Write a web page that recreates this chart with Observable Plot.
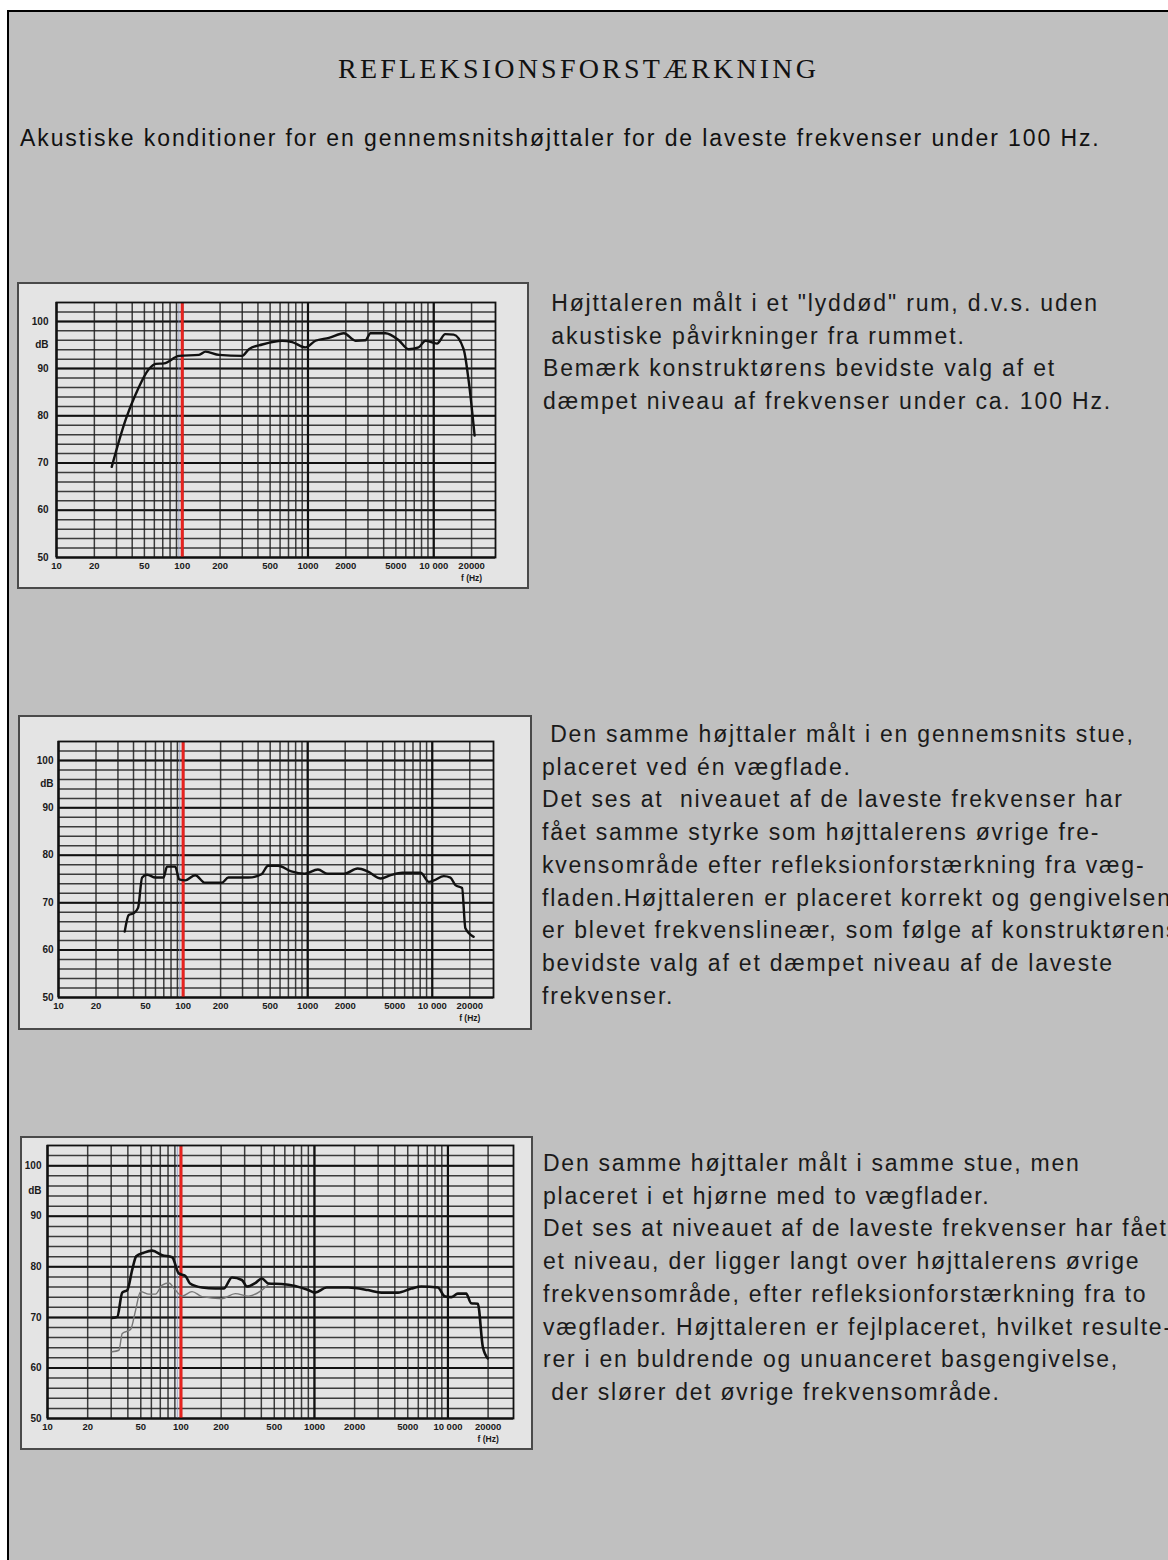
<!DOCTYPE html>
<html>
<head>
<meta charset="utf-8">
<script src="https://cdn.jsdelivr.net/npm/d3@7"></script>
<script src="https://cdn.jsdelivr.net/npm/@observablehq/plot@0.6"></script>
<style>
  html, body { margin: 0; padding: 0; background: #fff; }
  body { width: 1168px; height: 1560px; overflow: hidden; position: relative; }
  #page { position: absolute; left: 7px; top: 10px; width: 1220px; height: 1600px;
          background: #c0c0c0; border-left: 2px solid #000; border-top: 2px solid #000; }
  .abs { position: absolute; }
  .title { font-family: "Liberation Serif", serif; font-size: 28px; letter-spacing: 3.2px; line-height: 28px; color: #111; white-space: pre; }
  .sub { font-family: "Liberation Sans", Arial, sans-serif; font-size: 23px; letter-spacing: 1.9px; line-height: 32.7px; color: #111; white-space: pre; }
  .txt { font-family: "Liberation Sans", Arial, sans-serif; font-size: 23px; line-height: 32.7px; color: #1a1a1a; white-space: pre; }
  .box { position: absolute; background: #e4e4e4; box-sizing: border-box; border: 2px solid #4a4a4a; }
  .chart { position: absolute; }
  .chart svg { overflow: visible; }
</style>
</head>
<body>
<div id="page"></div>
<script>
// ---------- data ----------
// grid frequencies (log paper lines) and dB grid
const gridFreq = [10,20,30,40,50,60,70,80,90,100,200,300,400,500,600,700,800,900,1000,2000,3000,4000,5000,6000,7000,8000,9000,10000,20000];
const decadeFreq = [10,100,1000,10000];
const gridDb = [50,52,54,56,58,60,62,64,66,68,70,72,74,76,78,80,82,84,86,88,90,92,94,96,98,100,102];
const majorDb = [50,60,70,80,90,100];
const xTickValues = [10,20,50,100,200,500,1000,2000,5000,10000,20000];
const xTickLabels = ["10","20","50","100","200","500","1000","2000","5000","10 000","20000"];
const xUnitAt = [20000];
const xUnitLabel = "f (Hz)";
const yTickValues = [50,60,70,80,90,95,100];
const yTickLabels = ["50","60","70","80","90","dB","100"];
const markerFreq = [100];

// chart 1: anechoic ("lyddød") measurement
const anechoicFreq = [27.5,35.6,42.7,54.4,61.5,71.6,94.2,135.8,153.5,196,300,339,433,624,749,955,1148,1466,1928,2387,2866,3142,4131,5272,6310,7586,8590,10620,12360,14410,17300,18970,21150];
const anechoicDb   = [69.2,79.3,84.6,89.9,91.0,91.1,92.7,92.9,93.6,92.9,92.7,94.1,95.1,95.9,95.6,94.5,95.9,96.5,97.5,95.9,96.0,97.5,97.5,96.0,94.1,94.5,95.9,95.3,97.3,97.2,94.1,87.4,75.8];

// chart 2: one wall
const oneWallFreq = [34,36.6,40.2,43.5,46.9,51.4,59.9,69.8,74.2,86.5,93.1,104,125,150,204,231,333,426,481,578,739,944,1208,1449,1968,2518,3027,3864,4645,5754,8058,9397,10300,12380,13990,15340,17340,18440,21490];
const oneWallDb   = [63.9,67.4,67.8,68.9,75.3,75.9,75.3,75.3,77.6,77.6,74.9,74.7,75.8,74.2,74.2,75.3,75.3,76.0,77.8,77.8,76.6,76.1,77.0,76.1,76.1,77.2,76.6,75.1,75.8,76.3,76.3,74.4,74.7,75.6,75.3,73.7,73.1,64.6,62.8];

// chart 3: corner (two walls) - heavy line
const cornerFreq = [30.5,33.3,36.3,39.6,43.1,46.2,52.7,60.9,72.3,85.9,96.2,108,117,144,181,209,241,286,312,360,404,452,569,716,900,1009,1233,1790,2523,3175,4227,5318,6320,8410,9440,10590,11870,13700,14930,16750,18250,19890];
const cornerDb   = [69.9,70.1,74.9,75.4,79.4,82.1,82.8,83.2,82.3,81.9,78.7,78.2,76.7,75.9,75.7,75.7,77.9,77.4,76.1,76.8,77.7,76.7,76.6,76.2,75.4,74.9,75.9,75.9,75.4,74.9,74.9,75.7,76.1,75.9,74.2,74.0,74.7,74.7,72.8,72.7,64.2,61.9];
// chart 3: faint line (one wall, for comparison)
const cornerRefFreq = [30.5,34.3,36.3,41.9,45.7,49.8,57.4,64.4,72.3,81.1,90.8,102,121,144,203,255,321,404,460];
const cornerRefDb   = [63.2,63.5,66.8,67.6,71.4,75.1,74.6,74.6,76.4,76.8,75.4,74.2,75.1,74.1,73.7,74.7,74.2,75.4,76.7];

const titleText = "REFLEKSIONSFORSTÆRKNING";
const subText = "Akustiske konditioner for en gennemsnitshøjttaler for de laveste frekvenser under 100 Hz.";
const text1 = [" Højttaleren målt i et \"lyddød\" rum, d.v.s. uden",
               " akustiske påvirkninger fra rummet.",
               "Bemærk konstruktørens bevidste valg af et",
               "dæmpet niveau af frekvenser under ca. 100 Hz."];
const text2 = [" Den samme højttaler målt i en gennemsnits stue,",
               "placeret ved én vægflade.",
               "Det ses at  niveauet af de laveste frekvenser har",
               "fået samme styrke som højttalerens øvrige fre-",
               "kvensområde efter refleksionforstærkning fra væg-",
               "fladen.Højttaleren er placeret korrekt og gengivelsen",
               "er blevet frekvenslineær, som følge af konstruktørens",
               "bevidste valg af et dæmpet niveau af de laveste",
               "frekvenser."];
const text3 = ["Den samme højttaler målt i samme stue, men",
               "placeret i et hjørne med to vægflader.",
               "Det ses at niveauet af de laveste frekvenser har fået",
               "et niveau, der ligger langt over højttalerens øvrige",
               "frekvensområde, efter refleksionforstærkning fra to",
               "vægflader. Højttaleren er fejlplaceret, hvilket resulte-",
               "rer i en buldrende og unuanceret basgengivelse,",
               " der slører det øvrige frekvensområde."];

// ---------- build ----------
const body = document.body;
function addDiv(cls, left, top, content, ls) {
  const d = document.createElement("div");
  d.className = cls + " abs";
  d.style.left = left + "px";
  d.style.top = top + "px";
  if (ls != null) d.style.letterSpacing = ls + "px";
  d.textContent = content;
  body.appendChild(d);
  return d;
}
addDiv("title", 338, 55, titleText);
addDiv("sub", 20, 122, subText);
addDiv("txt", 543, 287, text1.join("\n"), 1.85);
addDiv("txt", 542, 718, text2.join("\n"), 1.8);
addDiv("txt", 543, 1147, text3.join("\n"), 1.75);

const toRows = (fs, ds) => fs.map((f, i) => ({f, db: ds[i]}));

function chart({left, top, width, height, mL, mR, mT, mB, padY, series}) {
  const box = document.createElement("div");
  box.className = "box";
  Object.assign(box.style, {left: left + "px", top: top + "px", width: width + "px", height: height + "px"});
  body.appendChild(box);

  const lines = series.map(s => Plot.line(toRows(s.f, s.db), {
    x: "f", y: "db", stroke: s.color, strokeWidth: s.w, curve: "monotone-x"
  }));

  const p = Plot.plot({
    width, height,
    marginLeft: mL, marginRight: mR, marginTop: mT, marginBottom: mB,
    x: {type: "log", domain: [10, 31000], axis: null},
    y: {domain: [50, 104], axis: null},
    style: {background: "transparent", fontFamily: "Liberation Sans, Arial, sans-serif", fontSize: "10px", fontWeight: "bold", color: "#1a1a1a", overflow: "visible"},
    marks: [
      Plot.ruleY(gridDb, {stroke: "#1e1e1e", strokeWidth: 1.5, strokeOpacity: 0.85}),
      Plot.ruleY(majorDb, {stroke: "#111", strokeWidth: 2}),
      Plot.ruleX(gridFreq, {stroke: "#1e1e1e", strokeWidth: 1.5, strokeOpacity: 0.85}),
      Plot.ruleX(decadeFreq, {stroke: "#111", strokeWidth: 2.2}),
      Plot.ruleX([94], {stroke: "#8796c8", strokeWidth: 1, strokeOpacity: 0.7}),
      Plot.ruleX(markerFreq, {stroke: "#e8231f", strokeWidth: 3}),
      Plot.frame({stroke: "#111", strokeWidth: 1.8}),
      ...lines,
      Plot.text(xTickValues, {x: d => d, text: d => xTickLabels[xTickValues.indexOf(d)],
        frameAnchor: "bottom", lineAnchor: "top", dy: 5, fontSize: 9.5}),
      Plot.text(xUnitAt, {x: d => d, text: () => xUnitLabel,
        frameAnchor: "bottom", lineAnchor: "top", dy: 17, fontSize: 8.5}),
      Plot.text(yTickValues, {y: d => d, text: d => yTickLabels[yTickValues.indexOf(d)],
        frameAnchor: "left", textAnchor: "end", dx: -padY})
    ]
  });
  const holder = document.createElement("div");
  holder.className = "chart";
  Object.assign(holder.style, {left: left + "px", top: top + "px", width: width + "px", height: height + "px"});
  holder.appendChild(p);
  body.appendChild(holder);
}

chart({left: 17, top: 282, width: 512, height: 307, mL: 39, mR: 34, mT: 20, mB: 32, padY: 8,
       series: [{f: anechoicFreq, db: anechoicDb, color: "#111", w: 2.4}]});
chart({left: 18, top: 715, width: 514, height: 315, mL: 40, mR: 39, mT: 26, mB: 33, padY: 5,
       series: [{f: oneWallFreq, db: oneWallDb, color: "#111", w: 2.4}]});
chart({left: 20, top: 1136, width: 513, height: 314, mL: 27, mR: 20, mT: 9, mB: 32, padY: 6,
       series: [{f: cornerRefFreq, db: cornerRefDb, color: "#777", w: 1.4},
                {f: cornerFreq, db: cornerDb, color: "#111", w: 2.6}]});
</script>
</body>
</html>
